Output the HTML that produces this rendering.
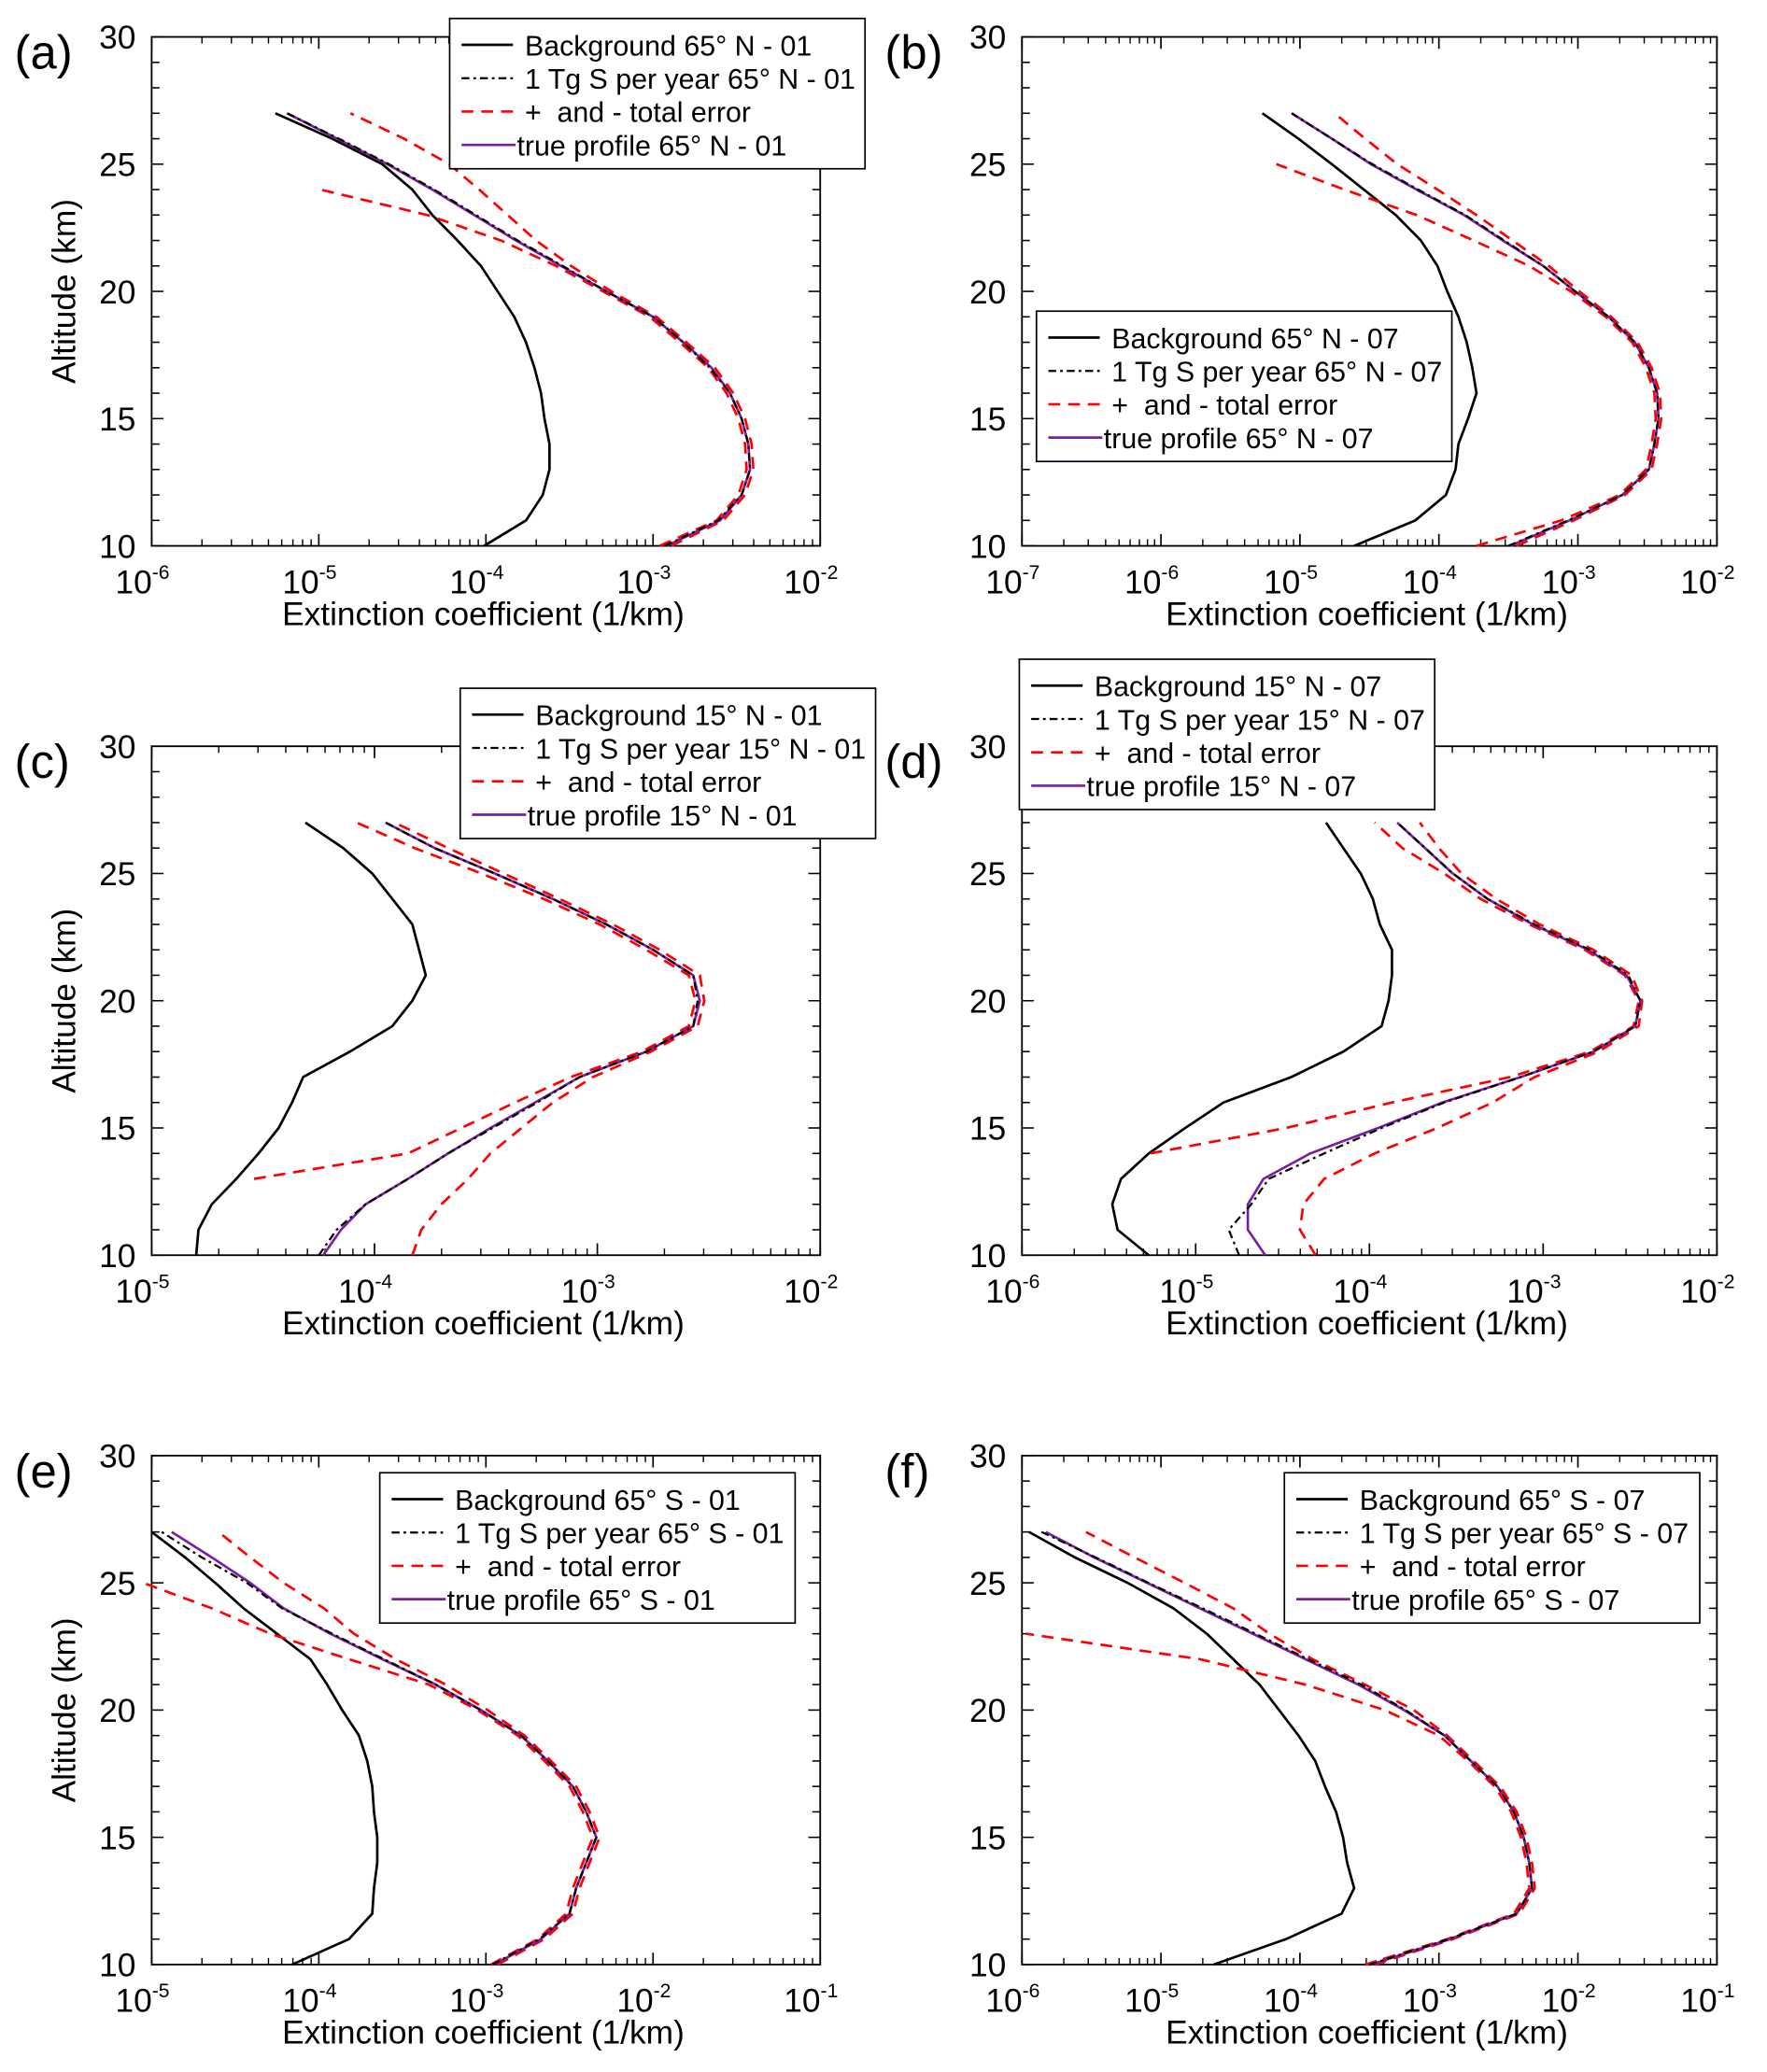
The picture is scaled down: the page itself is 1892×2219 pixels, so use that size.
<!DOCTYPE html>
<html><head><meta charset="utf-8">
<style>
html,body{margin:0;padding:0;background:#fff;}
svg{display:block;}
text{font-family:"Liberation Sans",sans-serif;fill:#000;}
</style></head>
<body>
<svg id="fig" width="1892" height="2219" viewBox="0 0 1340 1571.5" preserveAspectRatio="none" xmlns="http://www.w3.org/2000/svg"></svg>
<script>
// Altitudes (km)
const alt = [10,11,12,13,14,15,16,17,18,19,20,21,22,23,24,25,26,27];
// log10 extinction values, index matches alt
const aBg   = [-4.01,-3.76,-3.66,-3.62,-3.62,-3.65,-3.67,-3.71,-3.76,-3.83,-3.93,-4.03,-4.17,-4.32,-4.44,-4.62,-4.92,-5.26];
const aTrue = [-2.92,-2.60,-2.47,-2.42,-2.43,-2.47,-2.54,-2.65,-2.82,-3.00,-3.28,-3.55,-3.82,-4.07,-4.32,-4.59,-4.89,-5.19];
const aTg   = [-2.93,-2.61,-2.47,-2.42,-2.43,-2.47,-2.54,-2.66,-2.82,-3.00,-3.28,-3.54,-3.81,-4.06,-4.31,-4.58,-4.88,-5.19];
const aUp   = [-2.89,-2.58,-2.45,-2.40,-2.41,-2.45,-2.52,-2.63,-2.80,-2.98,-3.25,-3.49,-3.70,-3.87,-4.04,-4.22,-4.49,-4.81];
const aLo   = [-2.96,-2.62,-2.49,-2.44,-2.45,-2.49,-2.56,-2.67,-2.84,-3.02,-3.30,-3.58,-3.91,-4.35,-4.99,null,null,null];

const bBg   = [-4.61,-4.17,-3.95,-3.88,-3.86,-3.79,-3.73,-3.76,-3.80,-3.86,-3.94,-4.01,-4.13,-4.31,-4.54,-4.77,-5.01,-5.27];
const bTrue = [-3.49,-3.06,-2.68,-2.49,-2.45,-2.42,-2.43,-2.49,-2.59,-2.78,-3.02,-3.25,-3.54,-3.82,-4.16,-4.49,-4.77,-5.06];
const bTg   = [-3.50,-3.07,-2.68,-2.49,-2.45,-2.42,-2.43,-2.49,-2.59,-2.78,-3.02,-3.25,-3.53,-3.81,-4.15,-4.48,-4.77,-5.06];
const bUp   = [-3.44,-3.03,-2.66,-2.47,-2.43,-2.40,-2.41,-2.47,-2.57,-2.76,-2.99,-3.21,-3.47,-3.73,-4.01,-4.30,-4.53,-4.75];
const bLo   = [-3.73,-3.12,-2.70,-2.51,-2.47,-2.44,-2.45,-2.51,-2.61,-2.80,-3.05,-3.35,-3.75,-4.16,-4.68,-5.17,null,null];

const cBg   = [-4.80,-4.79,-4.73,-4.62,-4.52,-4.43,-4.37,-4.32,-4.11,-3.92,-3.83,-3.77,-3.80,-3.83,-3.92,-4.01,-4.14,-4.31];
const cTrue = [-4.23,-4.15,-4.04,-3.85,-3.67,-3.48,-3.28,-3.08,-2.78,-2.57,-2.54,-2.57,-2.75,-2.96,-3.20,-3.46,-3.73,-3.95];
const cTg   = [-4.25,-4.17,-4.04,-3.85,-3.67,-3.47,-3.27,-3.08,-2.78,-2.57,-2.55,-2.57,-2.75,-2.96,-3.20,-3.46,-3.73,-3.95];
const cUp   = [-3.83,-3.79,-3.70,-3.58,-3.48,-3.34,-3.20,-3.02,-2.76,-2.55,-2.52,-2.54,-2.72,-2.93,-3.17,-3.42,-3.67,-3.91];
const cLo   = [null,null,null,-4.54,-3.85,-3.61,-3.37,-3.12,-2.80,-2.59,-2.56,-2.59,-2.78,-2.99,-3.24,-3.52,-3.82,-4.08];

const dBg   = [-5.27,-5.45,-5.48,-5.43,-5.27,-5.06,-4.84,-4.45,-4.15,-3.93,-3.89,-3.87,-3.87,-3.94,-3.98,-4.05,-4.15,-4.25];
const dTrue = [-4.60,-4.70,-4.70,-4.61,-4.34,-3.95,-3.58,-3.13,-2.71,-2.47,-2.44,-2.52,-2.74,-3.06,-3.32,-3.52,-3.68,-3.84];
const dTg   = [-4.75,-4.81,-4.68,-4.58,-4.26,-3.93,-3.57,-3.13,-2.71,-2.47,-2.44,-2.51,-2.73,-3.05,-3.32,-3.52,-3.68,-3.84];
const dUp   = [-4.31,-4.40,-4.38,-4.26,-3.97,-3.61,-3.29,-3.05,-2.68,-2.45,-2.43,-2.49,-2.71,-3.02,-3.27,-3.47,-3.60,-3.71];
const dLo   = [null,null,null,null,-5.26,-4.48,-3.87,-3.19,-2.73,-2.48,-2.45,-2.53,-2.76,-3.08,-3.36,-3.57,-3.81,-3.97];

const eBg   = [-4.16,-3.82,-3.68,-3.67,-3.65,-3.65,-3.67,-3.68,-3.71,-3.76,-3.86,-3.95,-4.05,-4.25,-4.45,-4.62,-4.80,-5.00];
const eTrue = [-2.95,-2.67,-2.50,-2.46,-2.40,-2.34,-2.40,-2.48,-2.63,-2.79,-3.03,-3.30,-3.62,-3.93,-4.21,-4.41,-4.64,-4.88];
const eTg   = [-2.96,-2.68,-2.50,-2.46,-2.40,-2.34,-2.40,-2.48,-2.63,-2.79,-3.03,-3.30,-3.61,-3.92,-4.22,-4.43,-4.70,-4.94];
const eUp   = [-2.93,-2.65,-2.48,-2.44,-2.38,-2.32,-2.38,-2.46,-2.61,-2.77,-2.99,-3.24,-3.54,-3.79,-3.97,-4.21,-4.41,-4.60];
const eLo   = [-2.97,-2.69,-2.52,-2.48,-2.42,-2.36,-2.42,-2.50,-2.65,-2.81,-3.05,-3.34,-3.82,-4.29,-4.64,-5.05,null,null];

const fBg   = [-4.62,-4.10,-3.70,-3.61,-3.66,-3.69,-3.74,-3.82,-3.89,-4.01,-4.15,-4.29,-4.48,-4.67,-4.91,-5.24,-5.62,-5.95];
const fTrue = [-3.49,-2.92,-2.44,-2.33,-2.35,-2.39,-2.46,-2.58,-2.77,-2.96,-3.25,-3.58,-3.96,-4.34,-4.72,-5.10,-5.48,-5.83];
const fTg   = [-3.50,-2.93,-2.44,-2.33,-2.35,-2.39,-2.46,-2.58,-2.77,-2.96,-3.24,-3.56,-3.94,-4.32,-4.70,-5.09,-5.47,-5.86];
const fUp   = [-3.46,-2.90,-2.42,-2.31,-2.33,-2.37,-2.44,-2.56,-2.75,-2.94,-3.18,-3.53,-3.91,-4.22,-4.48,-4.83,-5.19,-5.54];
const fLo   = [-3.53,-2.94,-2.46,-2.35,-2.37,-2.41,-2.48,-2.60,-2.79,-3.00,-3.39,-3.96,-4.72,-5.97,null,null,null,null];

const ERR='+\u00a0\u00a0and - total error';
const panels = [
 {id:'a',x0:115,x1:622,y0:28,y1:414,lmin:-6,lmax:-2,lab:['Background 65° N - 01','1 Tg S per year 65° N - 01',ERR,'true profile 65° N - 01'],lg:[341,14],ylab:true,d:[aBg,aTg,aUp,aLo,aTrue]},
 {id:'b',x0:775,x1:1302,y0:28,y1:414,lmin:-7,lmax:-2,lab:['Background 65° N - 07','1 Tg S per year 65° N - 07',ERR,'true profile 65° N - 07'],lg:[786,236],ylab:false,d:[bBg,bTg,bUp,bLo,bTrue]},
 {id:'c',x0:115,x1:622,y0:566,y1:952,lmin:-5,lmax:-2,lab:['Background 15° N - 01','1 Tg S per year 15° N - 01',ERR,'true profile 15° N - 01'],lg:[349,522],ylab:true,d:[cBg,cTg,cUp,cLo,cTrue]},
 {id:'d',x0:775,x1:1302,y0:566,y1:952,lmin:-6,lmax:-2,lab:['Background 15° N - 07','1 Tg S per year 15° N - 07',ERR,'true profile 15° N - 07'],lg:[773,500],ylab:false,d:[dBg,dTg,dUp,dLo,dTrue]},
 {id:'e',x0:115,x1:622,y0:1104,y1:1490,lmin:-5,lmax:-1,lab:['Background 65° S - 01','1 Tg S per year 65° S - 01',ERR,'true profile 65° S - 01'],lg:[288,1117],ylab:true,d:[eBg,eTg,eUp,eLo,eTrue]},
 {id:'f',x0:775,x1:1302,y0:1104,y1:1490,lmin:-6,lmax:-1,lab:['Background 65° S - 07','1 Tg S per year 65° S - 07',ERR,'true profile 65° S - 07'],lg:[974,1117],ylab:false,d:[fBg,fTg,fUp,fLo,fTrue]}
];
const NS='http://www.w3.org/2000/svg';
const svg=document.getElementById('fig');
function mk(tag,attrs,parent){const e=document.createElementNS(NS,tag);for(const k in attrs)e.setAttribute(k,attrs[k]);(parent||svg).appendChild(e);return e;}
const styles=[
 {stroke:'#000','stroke-width':1.9},
 {stroke:'#000','stroke-width':1.6,'stroke-dasharray':'6,3,2,3'},
 {stroke:'#f00','stroke-width':1.9,'stroke-dasharray':'9,6'},
 {stroke:'#f00','stroke-width':1.9,'stroke-dasharray':'9,6'},
 {stroke:'#7b1fa2','stroke-width':1.9}
];
const seriesNames=['background-line','one-tg-line','error-upper-line','error-lower-line','true-profile-line'];
const drawOrder=[0,2,3,4,1];
panels.forEach(p=>{
  const g=mk('g',{});
  
  
  const xs=v=>p.x0+(v-p.lmin)/(p.lmax-p.lmin)*(p.x1-p.x0);
  const ys=z=>p.y1-(z-10)/20*(p.y1-p.y0);
  const fr=mk('rect',{x:p.x0,y:p.y0,width:p.x1-p.x0,height:p.y1-p.y0,fill:'none',stroke:'#000','stroke-width':1.3},g);
  
  
  for(let e=p.lmin;e<=p.lmax;e++){
    const X=xs(e);
    mk('line',{x1:X,x2:X,y1:p.y1,y2:p.y1-9,stroke:'#000','stroke-width':1.2},g);
    mk('line',{x1:X,x2:X,y1:p.y0,y2:p.y0+9,stroke:'#000','stroke-width':1.2},g);
    const t=mk('text',{x:X-7,y:p.y1+36,'font-size':25,'text-anchor':'middle'},g);
    
    
    t.textContent='10';
    const s=mk('tspan',{dy:-11,'font-size':15},t);s.textContent=String(e);
    if(e<p.lmax){for(let m=2;m<=9;m++){const Xm=xs(e+Math.log10(m));
      mk('line',{x1:Xm,x2:Xm,y1:p.y1,y2:p.y1-5,stroke:'#000','stroke-width':1},g);
      mk('line',{x1:Xm,x2:Xm,y1:p.y0,y2:p.y0+5,stroke:'#000','stroke-width':1},g);}}
  }
  for(let z=10;z<=30;z++){
    const Y=ys(z),L=(z%5===0)?9:6;
    mk('line',{x1:p.x0,x2:p.x0+L,y1:Y,y2:Y,stroke:'#000','stroke-width':1.1},g);
    mk('line',{x1:p.x1,x2:p.x1-L,y1:Y,y2:Y,stroke:'#000','stroke-width':1.1},g);
    if(z%5===0){const t=mk('text',{x:p.x0-12,y:Y+9,'font-size':25,'text-anchor':'end'},g);
      
      
      t.textContent=String(z);}
  }
  const xl=mk('text',{x:(p.x0+p.x1)/2-2,y:p.y1+60,'font-size':25,'text-anchor':'middle'},g);
  
  
  xl.textContent='Extinction coefficient (1/km)';
  if(p.ylab){const yl=mk('text',{x:0,y:0,'font-size':25,'text-anchor':'middle',transform:`translate(57,${(p.y0+p.y1)/2}) rotate(-90)`},g);
    
    
    yl.textContent='Altitude (km)';}
  const pl=mk('text',{x:p.x0-104,y:p.y0+24,'font-size':36},g);
  
  
  pl.textContent='('+p.id+')';
  drawOrder.forEach(i=>{
    const arr=p.d[i];let d='',pen=false;
    arr.forEach((v,k)=>{if(v===null){pen=false;return;}
      d+=(pen?'L':'M')+xs(v).toFixed(1)+','+ys(alt[k]).toFixed(1);pen=true;});
    const a=Object.assign({d:d,fill:'none','stroke-linejoin':'round'},styles[i]);
    const path=mk('path',a,g);
    
    
  });
  const [lx,ly]=p.lg;
  const lg=mk('g',{},g);
  
  
  mk('rect',{x:lx,y:ly,width:315,height:114,fill:'#fff',stroke:'#000','stroke-width':1.2},lg);
  const tx=[lx+57,lx+57,lx+57,lx+51];
  const lineEnd=[lx+48,lx+48,lx+48,lx+50];
  p.lab.forEach((s,i)=>{
    const Y=ly+20+i*25.3;
    const st=Object.assign({x1:lx+9,x2:lineEnd[i],y1:Y,y2:Y},styles[i===3?4:(i===2?2:i)]);
    mk('line',st,lg);
    const t=mk('text',{x:tx[i],y:Y+8,'font-size':21.5},lg);
    
    
    t.textContent=s;
  });
});
</script>
</body></html>
